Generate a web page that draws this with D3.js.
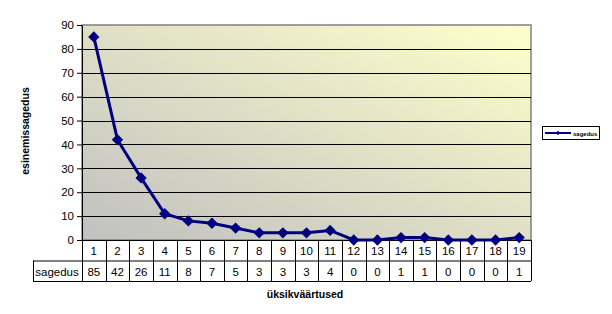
<!DOCTYPE html>
<html lang="en">
<head>
	<meta charset="UTF-8">
	<title>sagedus</title>
	<script src="https://cdn.jsdelivr.net/npm/d3@7"></script>
	<style>
		body { margin: 0; background: #fff; }
		text { font-family: Arial, "Liberation Sans", sans-serif; }
	</style>
</head>
<body>
<svg id="chart" width="612" height="314"></svg>
<script>

const categories = ['1','2','3','4','5','6','7','8','9','10','11','12','13','14','15','16','17','18','19'];
const sagedus = [85, 42, 26, 11, 8, 7, 5, 3, 3, 3, 4, 0, 0, 1, 1, 0, 0, 0, 1];
const yTicks = [0, 10, 20, 30, 40, 50, 60, 70, 80, 90];
const seriesName = 'sagedus';

const plotLeft = 82, plotRight = 531, plotTop = 25, plotBottom = 240;
const rowH = 20.5;

const svg = d3.select('#chart');

// gradient fill for the plot area
const defs = svg.append('defs');
const grad = defs.append('linearGradient')
	.attr('id', 'bg')
	.attr('x1', '0%').attr('y1', '100%')
	.attr('x2', '100%').attr('y2', '0%');
grad.append('stop').attr('offset', '0%').attr('stop-color', '#c0c0c0');
grad.append('stop').attr('offset', '100%').attr('stop-color', '#ffffcc');

const x = d3.scaleBand().domain(categories).range([plotLeft, plotRight]);
const y = d3.scaleLinear().domain([0, 90]).range([plotBottom, plotTop]);

svg.append('rect')
	.attr('x', plotLeft).attr('y', plotTop)
	.attr('width', plotRight - plotLeft).attr('height', plotBottom - plotTop)
	.attr('fill', 'url(#bg)')
	.attr('stroke', '#808080').attr('stroke-width', 1.5);

// gridlines
svg.append('g')
	.selectAll('line')
	.data(yTicks.filter(d => d > 0 && d < 90))
	.join('line')
	.attr('x1', plotLeft).attr('x2', plotRight)
	.attr('y1', d => Math.round(y(d)) + 0.5).attr('y2', d => Math.round(y(d)) + 0.5)
	.attr('stroke', '#000').attr('stroke-width', 1);

// y axis
const yAxis = svg.append('g')
	.attr('transform', `translate(${plotLeft},0)`)
	.call(d3.axisLeft(y).tickValues(yTicks).tickSize(5).tickSizeOuter(0));
yAxis.select('.domain').attr('stroke', '#000');
yAxis.selectAll('.tick line').attr('stroke', '#000');
yAxis.selectAll('.tick text')
	.attr('font-size', 11.5)
	.attr('font-family', 'Arial, "Liberation Sans", sans-serif')
	.attr('fill', '#000')
	.attr('x', -8);

// data table below the plot
const table = svg.append('g').attr('stroke', '#000').attr('stroke-width', 1).attr('fill', 'none');
table.append('line').attr('x1', plotLeft).attr('x2', plotRight).attr('y1', plotBottom + 0.5).attr('y2', plotBottom + 0.5);
table.append('line').attr('x1', 33).attr('x2', plotRight).attr('y1', plotBottom + rowH + 0.5).attr('y2', plotBottom + rowH + 0.5);
table.append('line').attr('x1', 33).attr('x2', plotRight).attr('y1', plotBottom + 2 * rowH + 0.5).attr('y2', plotBottom + 2 * rowH + 0.5);
table.append('line').attr('x1', 33.5).attr('x2', 33.5).attr('y1', plotBottom + rowH).attr('y2', plotBottom + 2 * rowH);
table.selectAll('line.col')
	.data(categories.concat(['end']))
	.join('line')
	.attr('class', 'col')
	.attr('x1', (d, i) => Math.round(plotLeft + i * x.bandwidth()) + 0.5)
	.attr('x2', (d, i) => Math.round(plotLeft + i * x.bandwidth()) + 0.5)
	.attr('y1', plotBottom).attr('y2', plotBottom + 2 * rowH);

svg.append('g')
	.selectAll('text')
	.data(categories)
	.join('text')
	.attr('x', d => x(d) + x.bandwidth() / 2)
	.attr('y', plotBottom + 15)
	.attr('text-anchor', 'middle')
	.attr('font-size', 11.5)
	.text(d => d);

svg.append('g')
	.selectAll('text')
	.data(sagedus)
	.join('text')
	.attr('x', (d, i) => x(categories[i]) + x.bandwidth() / 2)
	.attr('y', plotBottom + rowH + 15)
	.attr('text-anchor', 'middle')
	.attr('font-size', 11.5)
	.text(d => d);

svg.append('text')
	.attr('x', 57).attr('y', plotBottom + rowH + 15)
	.attr('text-anchor', 'middle')
	.attr('font-size', 11.5)
	.text(seriesName);

// line + markers
const line = d3.line()
	.x((d, i) => x(categories[i]) + x.bandwidth() / 2)
	.y(d => y(d));

svg.append('path')
	.datum(sagedus)
	.attr('d', line)
	.attr('fill', 'none')
	.attr('stroke', '#000080')
	.attr('stroke-width', 3);

const diamond = d3.symbol().type(d3.symbolSquare).size(64);
svg.append('g')
	.selectAll('path')
	.data(sagedus)
	.join('path')
	.attr('transform', (d, i) => `translate(${x(categories[i]) + x.bandwidth() / 2},${y(d)}) rotate(45)`)
	.attr('d', diamond)
	.attr('fill', '#000080');

// axis titles
svg.append('text')
	.attr('x', 305).attr('y', 298)
	.attr('text-anchor', 'middle')
	.attr('font-family', 'Verdana, "DejaVu Sans", sans-serif')
	.attr('font-weight', 'bold')
	.attr('font-size', 10.5)
	.text('üksikväärtused');

svg.append('text')
	.attr('transform', 'translate(29,131) rotate(-90)')
	.attr('text-anchor', 'middle')
	.attr('font-family', 'Verdana, "DejaVu Sans", sans-serif')
	.attr('font-weight', 'bold')
	.attr('font-size', 10.5)
	.text('esinemissagedus');

// legend
const lg = svg.append('g');
lg.append('rect')
	.attr('x', 542.5).attr('y', 126.5)
	.attr('width', 57).attr('height', 13)
	.attr('fill', '#fff').attr('stroke', '#000');
lg.append('line')
	.attr('x1', 545).attr('x2', 571).attr('y1', 133).attr('y2', 133)
	.attr('stroke', '#000080').attr('stroke-width', 2);
lg.append('path')
	.attr('transform', 'translate(558,133) rotate(45)')
	.attr('d', d3.symbol().type(d3.symbolSquare).size(10))
	.attr('fill', '#000080');
lg.append('text')
	.attr('x', 573).attr('y', 135.5)
	.attr('font-family', 'Verdana, "DejaVu Sans", sans-serif')
	.attr('font-weight', 'bold')
	.attr('font-size', 6)
	.text(seriesName);

</script>
</body>
</html>
